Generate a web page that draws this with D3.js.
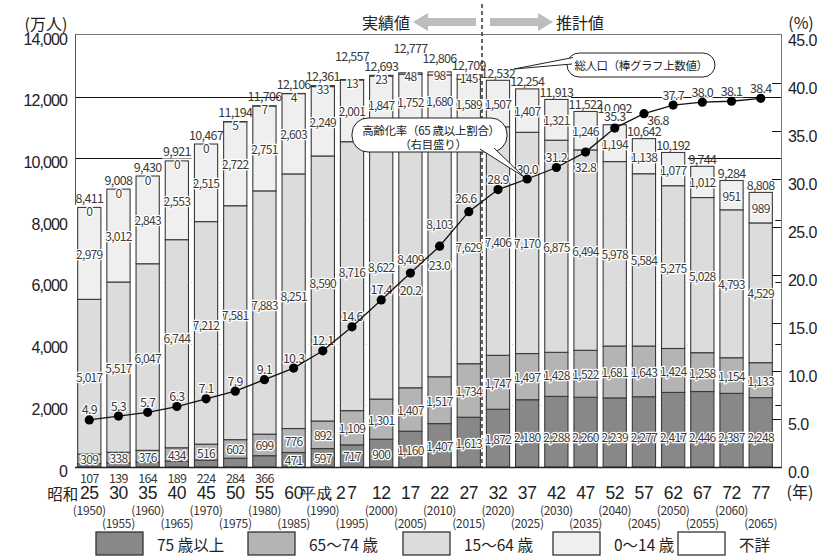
<!DOCTYPE html>
<html>
<head>
<meta charset="utf-8">
<script src="https://cdn.jsdelivr.net/npm/d3@7"></script>
<style>
  body { margin: 0; background: #fff; }
  svg { display: block; font-family: "Noto Sans CJK JP", "Noto Sans", sans-serif; }
</style>
</head>
<body>
<svg id="chart" width="818" height="560"></svg>
<script>
// 年齢区分別人口（万人）と高齢化率（%）
const years = [1950, 1955, 1960, 1965, 1970, 1975, 1980, 1985, 1990, 1995, 2000, 2005,
               2010, 2015, 2020, 2025, 2030, 2035, 2040, 2045, 2050, 2055, 2060, 2065];
const eraLabels = ["25", "30", "35", "40", "45", "50", "55", "60", "平成 2", "7", "12", "17",
                   "22", "27", "32", "37", "42", "47", "52", "57", "62", "67", "72", "77"];
const aged75 = [107, 139, 164, 189, 224, 284, 366, 471, 597, 717, 900, 1160,
                1407, 1613, 1872, 2180, 2288, 2260, 2239, 2277, 2417, 2446, 2387, 2248];
const aged65to74 = [309, 338, 376, 434, 516, 602, 699, 776, 892, 1109, 1301, 1407,
                    1517, 1734, 1747, 1497, 1428, 1522, 1681, 1643, 1424, 1258, 1154, 1133];
const aged15to64 = [5017, 5517, 6047, 6744, 7212, 7581, 7883, 8251, 8590, 8716, 8622, 8409,
                    8103, 7629, 7406, 7170, 6875, 6494, 5978, 5584, 5275, 5028, 4793, 4529];
const aged0to14 = [2979, 3012, 2843, 2553, 2515, 2722, 2751, 2603, 2249, 2001, 1847, 1752,
                   1680, 1589, 1507, 1407, 1321, 1246, 1194, 1138, 1077, 1012, 951, 989];
const unknownAge = [0, 0, 0, 0, 0, 5, 7, 4, 33, 13, 23, 48,
                    98, 145, null, null, null, null, null, null, null, null, null, null];
const totalPop = [8411, 9008, 9430, 9921, 10467, 11194, 11706, 12106, 12361, 12557, 12693, 12777,
                  12806, 12709, 12532, 12254, 11913, 11522, 10092, 10642, 10192, 9744, 9284, 8808];
const agingRate = [4.9, 5.3, 5.7, 6.3, 7.1, 7.9, 9.1, 10.3, 12.1, 14.6, 17.4, 20.2,
                   23.0, 26.6, 28.9, 30.0, 31.2, 32.8, 35.3, 36.8, 37.7, 38.0, 38.1, 38.4];
const leftTicks = [0, 2000, 4000, 6000, 8000, 10000, 12000, 14000];
const rightTicks = [0, 5, 10, 15, 20, 25, 30, 35, 40, 45];
const legendLabels = ["75 歳以上", "65〜74 歳", "15〜64 歳", "0〜14 歳", "不詳"];

const keys = ["a75", "a65", "a15", "a0", "unk"];
const fills = { a75: "#888888", a65: "#b4b4b4", a15: "#dcdcdc", a0: "#efefef", unk: "#ffffff" };

const svg = d3.select("#chart");
const X0 = 76, X1 = 781, YB = 467, YT = 35;

const x = d3.scaleBand().domain(years).range([76, 774]).paddingInner(0.17).paddingOuter(0.04);
const y = d3.scaleLinear().domain([0, 14000]).range([YB, YT]);
const yR = d3.scaleLinear().domain([0, 45]).range([YB, YT]);
const cx = yr => x(yr) + x.bandwidth() / 2;

const rows = years.map((yr, i) => ({
  year: yr, i,
  a75: aged75[i], a65: aged65to74[i], a15: aged15to64[i], a0: aged0to14[i],
  unk: unknownAge[i] || 0
}));
const series = d3.stack().keys(keys)(rows);
const topOf = i => series[series.length - 1][i][1];

// horizontal rules at the population ticks
svg.append("g").selectAll("line")
  .data(leftTicks.filter(v => v > 0 && v < 14000))
  .join("line")
  .attr("x1", X0).attr("x2", X1)
  .attr("y1", d => Math.round(y(d)) + 0.5).attr("y2", d => Math.round(y(d)) + 0.5)
  .attr("stroke", "#111").attr("stroke-width", 1);

// frame
svg.append("line").attr("x1", 75.5).attr("x2", X1).attr("y1", 34.5).attr("y2", 34.5).attr("stroke", "#777");
svg.append("line").attr("x1", X1 + 0.5).attr("x2", X1 + 0.5).attr("y1", 34).attr("y2", YB).attr("stroke", "#777");
svg.append("line").attr("x1", 75.5).attr("x2", 75.5).attr("y1", 34).attr("y2", YB + 1).attr("stroke", "#555");

// white halo round each bar
svg.append("g").selectAll("rect")
  .data(rows)
  .join("rect")
  .attr("x", d => x(d.year) - 2.5)
  .attr("y", d => y(topOf(d.i)) - 2.5)
  .attr("width", x.bandwidth() + 5)
  .attr("height", d => YB - y(topOf(d.i)) + 2.5)
  .attr("fill", "#fff");

// stacked segments
svg.append("g").selectAll("g")
  .data(series)
  .join("g")
  .attr("fill", s => fills[s.key])
  .selectAll("rect")
  .data(s => s.filter(d => d[1] - d[0] > 0))
  .join("rect")
  .attr("x", d => x(d.data.year) + 0.5)
  .attr("y", d => y(d[1]))
  .attr("width", x.bandwidth() - 1)
  .attr("height", d => y(d[0]) - y(d[1]))
  .attr("stroke", "#3a3a3a")
  .attr("stroke-width", 1.1);

// bottom axis line
svg.append("line").attr("x1", 75).attr("x2", X1 + 1).attr("y1", YB + 0.5).attr("y2", YB + 0.5)
  .attr("stroke", "#222").attr("stroke-width", 1.5);

// right-axis inner ticks
svg.append("g").selectAll("line")
  .data(rightTicks.filter(v => v > 0 && v < 45))
  .join("line")
  .attr("x1", X1 - 9).attr("x2", X1)
  .attr("y1", d => Math.round(yR(d)) + 0.5).attr("y2", d => Math.round(yR(d)) + 0.5)
  .attr("stroke", "#111");

// boundary between census and projection
svg.append("line").attr("x1", 482).attr("x2", 482).attr("y1", 4).attr("y2", YB)
  .attr("stroke", "#333").attr("stroke-width", 1.5).attr("stroke-dasharray", "4,3");

// axes (labels only)
const leftAxis = svg.append("g").attr("transform", `translate(${X0 - 6},4)`)
  .call(d3.axisLeft(y).tickValues(leftTicks).tickFormat(d3.format(",")).tickSize(0));
leftAxis.select(".domain").remove();
leftAxis.selectAll("text").attr("font-size", 16).attr("letter-spacing", -0.9)
  .attr("fill", "#222").attr("font-family", null);

const rightAxis = svg.append("g").attr("transform", `translate(${X1 + 4},5)`)
  .call(d3.axisRight(yR).tickValues(rightTicks).tickFormat(d3.format(".1f")).tickSize(0));
rightAxis.select(".domain").remove();
rightAxis.selectAll("text").attr("font-size", 16).attr("letter-spacing", -0.6)
  .attr("fill", "#222").attr("font-family", null);

const bottomAxis = svg.append("g").attr("transform", `translate(0,${YB + 17})`)
  .call(d3.axisBottom(x).tickFormat((d, i) => eraLabels[i]).tickSize(0));
bottomAxis.select(".domain").remove();
bottomAxis.selectAll("text").attr("font-size", 17.5).attr("letter-spacing", -0.4)
  .attr("fill", "#222").attr("font-family", null)
  .each(function (d, i) {
    const parts = eraLabels[i].split(" ");
    if (parts.length === 2) {
      const t = d3.select(this).text("");
      t.append("tspan").attr("font-size", 15.5).text(parts[0]);
      t.append("tspan").text(" " + parts[1]);
    }
  });

svg.append("text").attr("x", cx(years[0]) - 11).attr("y", 493).attr("text-anchor", "end")
  .attr("dominant-baseline", "central").attr("font-size", 15.5).attr("fill", "#222").text("昭和");

svg.append("g").selectAll("text")
  .data(years)
  .join("text")
  .attr("x", d => cx(d))
  .attr("y", (d, i) => i % 2 === 0 ? 509 : 522)
  .attr("text-anchor", "middle").attr("dominant-baseline", "central")
  .attr("font-size", 12).attr("letter-spacing", -0.3).attr("fill", "#333")
  .text(d => `(${d})`);

// ---- value labels ----
function label(g, xx, yy, txt, size, halo) {
  const t = g.append("text").attr("x", xx).attr("y", yy)
    .attr("text-anchor", "middle").attr("dominant-baseline", "central")
    .attr("font-size", size).attr("fill", "#3a3a3a").attr("letter-spacing", -0.7).text(txt);
  if (halo) t.attr("stroke", "#fff").attr("stroke-width", 2.6).attr("paint-order", "stroke")
             .attr("stroke-linejoin", "round");
  return t;
}
const fmt = d3.format(",");
const labelG = svg.append("g");

// 15-64 labels that sit away from the segment centre (keep clear of the rate line)
const workingShift = { 2010: -28, 1995: -5, 1990: -6, 1985: -6, 1980: -8, 1975: -8, 1970: -8, 1965: -6 };

rows.forEach(d => {
  const c = cx(d.year);
  const s = series.map(se => se[d.i]);
  // 75+
  if (d.i < 7) label(labelG, c, 477, fmt(d.a75), 12.5, false);
  else label(labelG, c, y(Math.min(d.a75 / 2, 1000)), fmt(d.a75), 12, true);
  // 65-74, 15-64, 0-14 at segment centres
  label(labelG, c, y((s[1][0] + s[1][1]) / 2), fmt(d.a65), 12, true);
  label(labelG, c, y((s[2][0] + s[2][1]) / 2) + (workingShift[d.year] || 0), fmt(d.a15), 12, true);
  label(labelG, c, y((s[3][0] + s[3][1]) / 2), fmt(d.a0), 12, true);
  // unknown
  if (unknownAge[d.i] !== null) label(labelG, c, y(topOf(d.i)) + 3, fmt(unknownAge[d.i]), 12, true);
});

// total population above each bar
const totalLift = { 1995: 14, 2005: 15, 2010: 4, 2040: 9 };
rows.forEach(d => {
  const c = cx(d.year);
  const base = unknownAge[d.i] !== null ? 10 : 8;
  const yy = y(topOf(d.i)) - base - (totalLift[d.year] || 0);
  label(labelG, c, yy, fmt(totalPop[d.i]), 12.5, false);
});

// aging-rate line
const line = d3.line().x(d => cx(d.year)).y(d => yR(d.rate));
const ratePts = years.map((yr, i) => ({ year: yr, rate: agingRate[i] }));
svg.append("path").datum(ratePts).attr("d", line)
  .attr("fill", "none").attr("stroke", "#111").attr("stroke-width", 1.3);
svg.append("g").selectAll("circle").data(ratePts).join("circle")
  .attr("cx", d => cx(d.year)).attr("cy", d => yR(d.rate)).attr("r", 4.6).attr("fill", "#000");

const rateShift = { 2005: [0, 16], 2010: [0, 18], 2015: [-3, -14], 2035: [0, 14], 2045: [14, 6], 2040: [0, -13] };
ratePts.forEach(d => {
  const [dx, dy] = rateShift[d.year] || [0, -11];
  label(labelG, cx(d.year) + dx, yR(d.rate) + dy, d.rate.toFixed(1), 12.5, true);
});

// ---- callouts ----
const call = svg.append("g");
call.append("rect").attr("x", 567).attr("y", 53).attr("width", 148).attr("height", 24).attr("rx", 12)
  .attr("fill", "#fff").attr("stroke", "#222").attr("stroke-width", 1);
call.append("path").attr("d", "M573,57.5 L514,69 L572,64")
  .attr("fill", "#fff").attr("stroke", "#222").attr("stroke-width", 1);
call.append("text").attr("x", 641).attr("y", 65).attr("text-anchor", "middle")
  .attr("dominant-baseline", "central").attr("font-size", 11.5).attr("letter-spacing", -0.4)
  .attr("fill", "#222").text("総人口（棒グラフ上数値）");

call.append("rect").attr("x", 352).attr("y", 118).attr("width", 155).attr("height", 34).attr("rx", 16)
  .attr("fill", "#fff").attr("stroke", "#222").attr("stroke-width", 1);
call.append("path").attr("d", "M480,149 L524,177 L494,148")
  .attr("fill", "#fff").attr("stroke", "#222").attr("stroke-width", 1);
call.append("text").attr("x", 431).attr("y", 130).attr("text-anchor", "middle")
  .attr("dominant-baseline", "central").attr("font-size", 11.5).attr("letter-spacing", -0.3)
  .attr("fill", "#222").text("高齢化率（65 歳以上割合）");
call.append("text").attr("x", 433).attr("y", 144).attr("text-anchor", "middle")
  .attr("dominant-baseline", "central").attr("font-size", 11.5).attr("letter-spacing", -0.3)
  .attr("fill", "#222").text("（右目盛り）");

// ---- headings ----
const head = svg.append("g").attr("font-size", 16).attr("fill", "#222");
head.append("text").attr("x", 46).attr("y", 23).attr("text-anchor", "middle")
  .attr("dominant-baseline", "central").text("(万人)");
head.append("text").attr("x", 801).attr("y", 22).attr("text-anchor", "middle")
  .attr("dominant-baseline", "central").text("(%)");
head.append("text").attr("x", 800).attr("y", 491).attr("text-anchor", "middle")
  .attr("dominant-baseline", "central").text("(年)");
head.append("text").attr("x", 386).attr("y", 22).attr("text-anchor", "middle")
  .attr("dominant-baseline", "central").text("実績値");
head.append("text").attr("x", 580).attr("y", 22).attr("text-anchor", "middle")
  .attr("dominant-baseline", "central").text("推計値");

// arrows
svg.append("path").attr("d", "M413,22 L428,13 L428,18 L476,18 L476,26 L428,26 L428,31 Z").attr("fill", "#bdbdbd");
svg.append("path").attr("d", "M553,22 L538,13 L538,18 L490,18 L490,26 L538,26 L538,31 Z").attr("fill", "#bdbdbd");

// ---- legend ----
const legendX = [96, 248, 403, 553, 678];
const lg = svg.append("g").selectAll("g").data(keys).join("g")
  .attr("transform", (k, i) => `translate(${legendX[i]},532)`);
lg.append("rect").attr("width", 47).attr("height", 23).attr("fill", k => fills[k])
  .attr("stroke", "#333").attr("stroke-width", 1.3);
lg.append("text").attr("x", 61).attr("y", 12).attr("dominant-baseline", "central")
  .attr("font-size", 15.5).attr("fill", "#222").text((k, i) => legendLabels[i]);
</script>
</body>
</html>
